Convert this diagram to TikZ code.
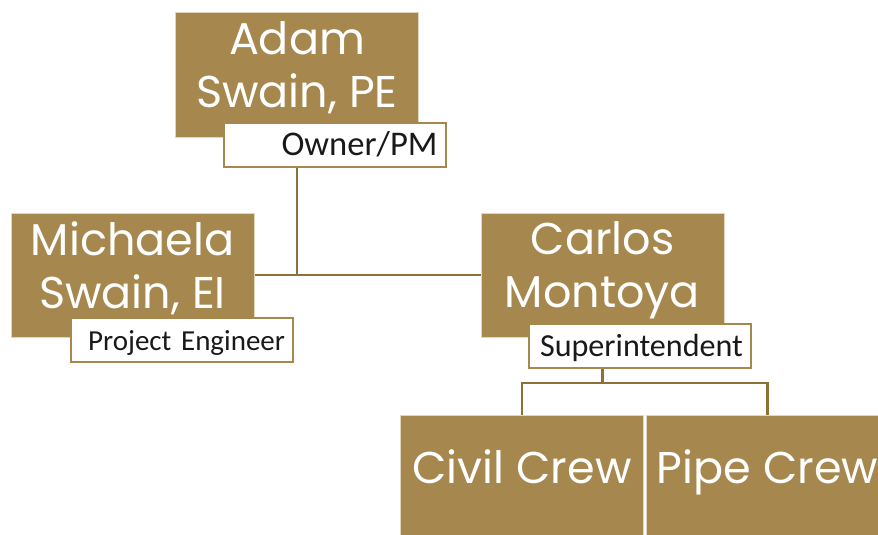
\documentclass[tikz,border=0pt]{standalone}
\usepackage{fontspec}
\setmainfont{Poppins}
\newfontfamily\rolefont{Carlito}
\usetikzlibrary{positioning}
\definecolor{gold}{RGB}{166,136,78}
\definecolor{goldline}{RGB}{142,112,58}
\definecolor{goldedge}{RGB}{226,214,190}
\tikzset{
  namebox/.style={fill=gold, draw=goldedge, line width=1pt, minimum width=243pt, minimum height=124pt, inner sep=0pt},
  crewbox/.style={namebox, minimum height=120pt},
  nametext/.style={text=white, font=\fontsize{44.5}{53}\selectfont, align=center, inner sep=0pt},
  rolebox/.style={fill=white, draw=gold, line width=2pt, text width=206pt, align=right, inner xsep=8pt, inner ysep=0pt, minimum height=44pt, text height=20pt, text depth=0pt, text=black!90},
  link/.style={draw=goldline, line width=2.6pt}
}

\begin{document}
\begin{tikzpicture}[x=1pt, y=-1pt]
  \useasboundingbox (0,0) rectangle (878,535);
  \clip (0,0) rectangle (878,535);
  % name boxes
  \node[namebox] (adam) at (297,75) {};
  \node[namebox] (michaela) at (132.5,275) {};
  \node[namebox] (carlos) at (602.5,275) {};
  \node[crewbox] (civil) at (522,475) {};
  \node[crewbox] (pipe) at (767.5,475) {};
  \node[nametext, below=9pt of adam.north] (adamname) {Adam\\Swain, PE};
  \node[nametext, below=9pt of michaela.north] (michaelaname) {Michaela\\Swain, EI};
  \node[nametext, below=9pt of carlos.north] (carlosname) {Carlos\\Montoya};
  \node[nametext, below=35pt of civil.north] (civilname) {Civil Crew};
  \node[nametext, below=35pt of pipe.north] (pipename) {Pipe Crew};
  % role tags
  \node[rolebox, font=\rolefont\fontsize{34.6}{40}\selectfont] (owner) at (334.5,145) {Owner/PM};
  \node[rolebox, font=\rolefont\fontsize{29}{35}\selectfont] (engineer) at (182,340) {Project Engineer};
  \node[rolebox, font=\rolefont\fontsize{32.1}{37}\selectfont] (super) at (640,346) {Superintendent};
  % connectors
  \coordinate (split) at (297,275);
  \coordinate (crewbus) at (602.5,383);
  \draw[link] (owner.south -| split) -- (split);
  \draw[link] (michaela.east) -- (carlos.west);
  \draw[link] (super.south -| crewbus) -- (crewbus);
  \draw[link] (civil.north) |- (crewbus) -| (pipe.north);
\end{tikzpicture}
\end{document}
